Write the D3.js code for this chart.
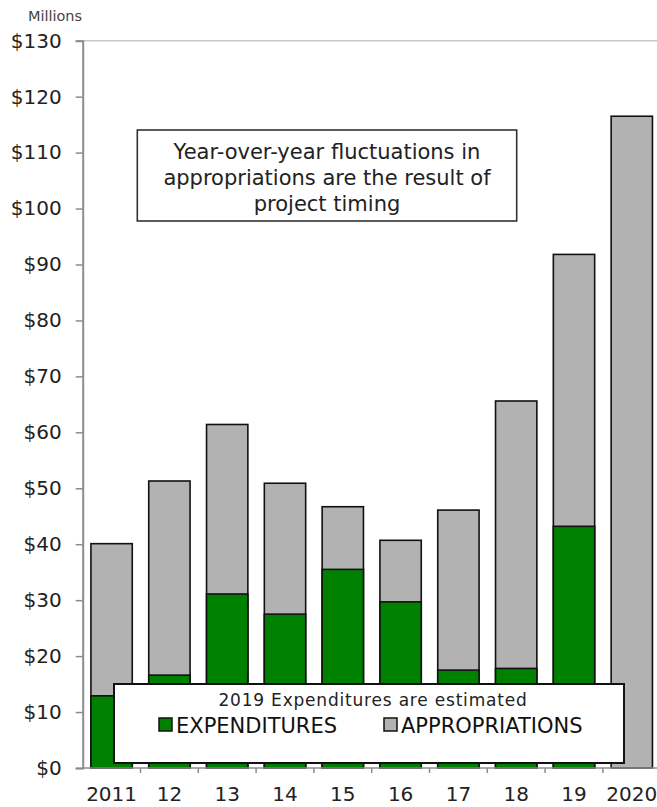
<!DOCTYPE html>
<html>
<head>
<meta charset="utf-8">
<script src="https://cdn.jsdelivr.net/npm/d3@7"></script>
<style>
  html, body { margin: 0; padding: 0; background: #fff; }
  svg { display: block; font-family: "DejaVu Sans", Verdana, sans-serif; }
</style>
</head>
<body>
<svg id="chart" width="657" height="807"></svg>
<script>
// ---- data ----
const years = ["2011", "12", "13", "14", "15", "16", "17", "18", "19", "2020"];
const appropriations = [40.1, 51.3, 61.4, 50.9, 46.7, 40.7, 46.1, 65.6, 91.8, 116.5];
const expenditures = [12.9, 16.6, 31.1, 27.5, 35.5, 29.7, 17.5, 17.8, 43.2, 0];
const yTicks = [0, 10, 20, 30, 40, 50, 60, 70, 80, 90, 100, 110, 120, 130];
const noteLines = ["Year-over-year fluctuations in", "appropriations are the result of", "project timing"];
const legendTitle = "2019 Expenditures are estimated";
const seriesNames = ["EXPENDITURES", "APPROPRIATIONS"];
const seriesColors = ["#008000", "#b2b2b2"];

// ---- layout ----
const svg = d3.select("#chart");
const pLeft = 82.7, pRight = 660.7, pTop = 40.7, pBottom = 768;

const y = d3.scaleLinear().domain([0, 130]).range([pBottom, pTop]);
const x = d3.scaleBand().domain(years).range([pLeft, pRight])
  .paddingInner(0.285).paddingOuter(0.1425);
const step = x.step();

// top border line
svg.append("line")
  .attr("x1", pLeft).attr("x2", 657).attr("y1", y(130)).attr("y2", y(130))
  .attr("stroke", "#c8c8c8").attr("stroke-width", 1.5);

// "Millions" label
svg.append("text")
  .attr("x", 55).attr("y", 21).attr("text-anchor", "middle")
  .attr("font-size", 14.5).attr("fill", "#444").text("Millions");

// bars: appropriations (full height), expenditures overlaid
const data = years.map((yr, i) => ({ yr, a: appropriations[i], e: expenditures[i] }));

svg.append("g").selectAll("rect").data(data).join("rect")
  .attr("x", d => x(d.yr)).attr("width", x.bandwidth())
  .attr("y", d => y(d.a)).attr("height", d => y(0) - y(d.a))
  .attr("fill", seriesColors[1]).attr("stroke", "#111").attr("stroke-width", 1.6);

svg.append("g").selectAll("rect").data(data.filter(d => d.e > 0)).join("rect")
  .attr("x", d => x(d.yr)).attr("width", x.bandwidth())
  .attr("y", d => y(d.e)).attr("height", d => y(0) - y(d.e))
  .attr("fill", seriesColors[0]).attr("stroke", "#111").attr("stroke-width", 1.6);

// y axis
const yAxis = d3.axisLeft(y).tickValues(yTicks).tickSize(7).tickPadding(14)
  .tickFormat(d => "$" + d);
const yg = svg.append("g").attr("transform", `translate(${pLeft},0)`).call(yAxis);
yg.select(".domain").attr("stroke", "#8c8c8c").attr("stroke-width", 2);
yg.selectAll(".tick line").attr("stroke", "#8c8c8c").attr("stroke-width", 1.5);
yg.selectAll(".tick text").attr("font-size", 20).attr("fill", "#222")
  .attr("font-family", "DejaVu Sans, Verdana, sans-serif");

// x axis
const xAxis = d3.axisBottom(x).tickSize(0).tickPadding(19);
const xg = svg.append("g").attr("transform", `translate(0,${pBottom})`).call(xAxis);
xg.select(".domain").remove();
xg.selectAll(".tick text").attr("font-size", 20).attr("fill", "#222")
  .attr("font-family", "DejaVu Sans, Verdana, sans-serif");
svg.append("line").attr("x1", pLeft).attr("x2", 657).attr("y1", pBottom).attr("y2", pBottom)
  .attr("stroke", "#8c8c8c").attr("stroke-width", 1.5);
// boundary ticks between categories
svg.append("g").selectAll("line").data(years.slice(0, -1)).join("line")
  .attr("x1", d => x(d) + x.bandwidth() + (step - x.bandwidth()) / 2)
  .attr("x2", d => x(d) + x.bandwidth() + (step - x.bandwidth()) / 2)
  .attr("y1", pBottom).attr("y2", pBottom + 5)
  .attr("stroke", "#8c8c8c").attr("stroke-width", 1.5);

// annotation box
const note = svg.append("g");
note.append("rect").attr("x", 137.3).attr("y", 130).attr("width", 379.4).attr("height", 91)
  .attr("fill", "#fff").attr("stroke", "#333").attr("stroke-width", 1.6);
note.selectAll("text").data(noteLines).join("text")
  .attr("x", 327).attr("y", (d, i) => 158.5 + i * 26)
  .attr("text-anchor", "middle").attr("font-size", 21).attr("fill", "#222")
  .text(d => d);

// legend
const lg = svg.append("g");
lg.append("rect").attr("x", 114).attr("y", 684).attr("width", 510).attr("height", 79)
  .attr("fill", "#fff").attr("stroke", "#111").attr("stroke-width", 2);
lg.append("text").attr("x", 373).attr("y", 706).attr("text-anchor", "middle")
  .attr("font-size", 17).attr("letter-spacing", "0.8px").attr("fill", "#222")
  .text(legendTitle);
const legX = [159, 384];
seriesNames.forEach((name, i) => {
  lg.append("rect").attr("x", legX[i]).attr("y", 718).attr("width", 13).attr("height", 13)
    .attr("fill", seriesColors[i]).attr("stroke", "#111").attr("stroke-width", 1.5);
  lg.append("text").attr("x", legX[i] + 17).attr("y", 732.5)
    .attr("font-size", 21).attr("fill", "#111").text(name);
});
</script>
</body>
</html>
